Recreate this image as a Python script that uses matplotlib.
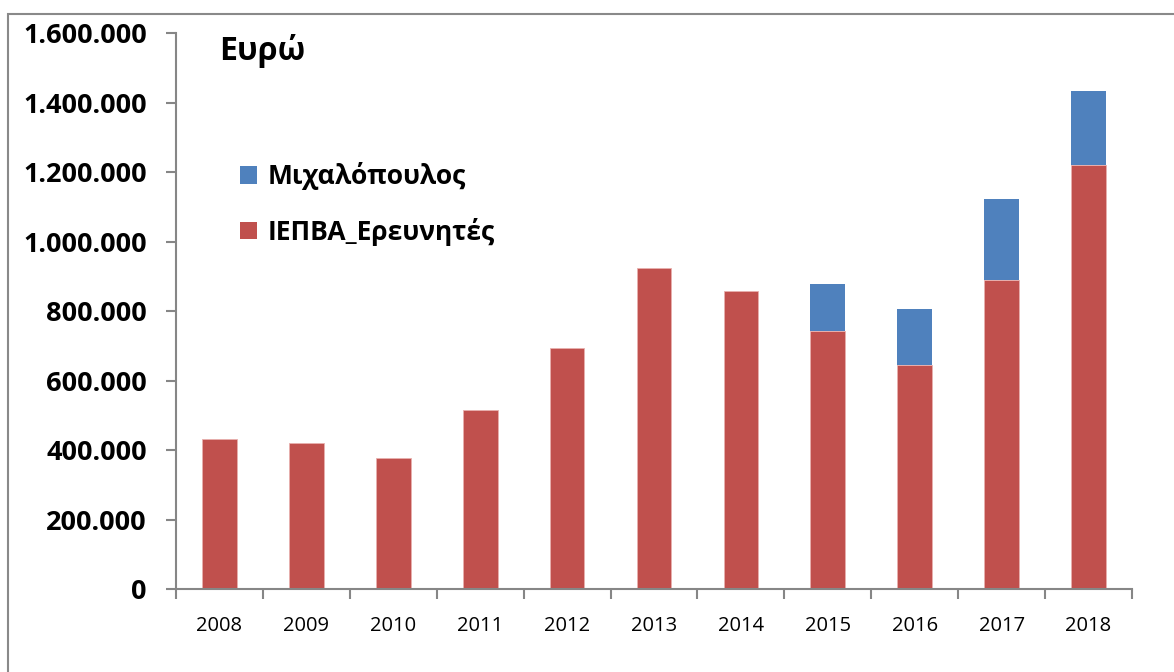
import matplotlib
matplotlib.use("Agg")
import matplotlib.pyplot as plt
from matplotlib.patches import Rectangle, Patch
from matplotlib.ticker import FuncFormatter, FixedLocator

plt.rcParams["font.family"] = ["Open Sans", "DejaVu Sans"]

years = ["2008", "2009", "2010", "2011", "2012", "2013",
         "2014", "2015", "2016", "2017", "2018"]
iepva = [432000, 421000, 378000, 515000, 694000, 924000,
         858000, 742000, 645000, 891000, 1220000]
michalopoulos = [0, 0, 0, 0, 0, 0,
                 0, 137000, 162000, 232000, 214000]

RED = "#C0504D"
BLUE = "#4F81BD"
GREY = "#868686"

fig = plt.figure(figsize=(11.74, 6.72), dpi=100)
ax = fig.add_axes([176 / 1174, 1 - 589.3 / 672, (1132 - 176) / 1174, (589.3 - 33.3) / 672])

x = range(len(years))
ax.bar(x, iepva, width=0.4, color=RED, edgecolor="#e8b0ae", linewidth=0.6)
ax.bar(x, michalopoulos, width=0.4, bottom=iepva, color=BLUE, linewidth=0)

ax.set_xlim(-0.5, len(years) - 0.5)
ax.set_ylim(0, 1600000)
ax.set_yticks(range(0, 1600001, 200000))
ax.yaxis.set_major_formatter(FuncFormatter(lambda v, p: f"{int(v):,}".replace(",", ".")))
ax.set_xticks(list(x))
ax.set_xticklabels(years)
ax.xaxis.set_minor_locator(FixedLocator([i - 0.5 for i in range(len(years) + 1)]))

for s in ["top", "right"]:
    ax.spines[s].set_visible(False)
for s in ["left", "bottom"]:
    ax.spines[s].set_color(GREY)
    ax.spines[s].set_linewidth(1.5)

ax.tick_params(axis="y", length=7, width=1.5, color=GREY, pad=14, labelsize=19.5)
for t in ax.get_yticklabels():
    t.set_fontweight("bold")
ax.tick_params(axis="x", which="major", length=0, pad=19, labelsize=14.5)
ax.tick_params(axis="x", which="minor", length=7, width=1.5, color=GREY)

fig.text(219 / 1174, 1 - 51 / 672, "Ευρώ", fontsize=23, fontweight="bold", va="center")

handles = [Patch(facecolor=BLUE, label="Μιχαλόπουλος"),
           Patch(facecolor=RED, label="ΙΕΠΒΑ_Ερευνητές")]
leg = fig.legend(handles=handles, loc="upper left",
                 bbox_to_anchor=(240 / 1174, 1 - 162 / 672),
                 frameon=False, prop={"size": 19, "weight": "bold"},
                 handlelength=0.65, handleheight=0.65, handletextpad=0.38,
                 labelspacing=1.05, borderpad=0, borderaxespad=0)

fig.patches.append(Rectangle((8 / 1174, -0.1), 1.2, 1 - 14 / 672 + 0.1,
                             transform=fig.transFigure, fill=False,
                             edgecolor="#898989", linewidth=1.5))

fig.savefig("out.png", dpi=100)
